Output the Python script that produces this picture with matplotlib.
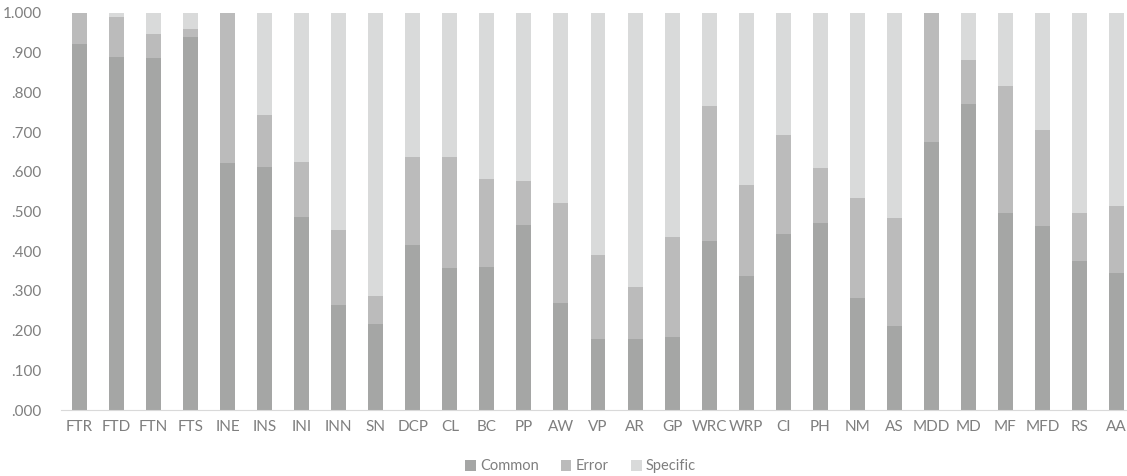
import numpy as np
import matplotlib
matplotlib.use('Agg')
import matplotlib.pyplot as plt
from matplotlib.ticker import FuncFormatter

'''
Data
'''
categories = ['FTR', 'FTD', 'FTN', 'FTS', 'INE', 'INS', 'INI', 'INN', 'SN', 'DCP',
              'CL', 'BC', 'PP', 'AW', 'VP', 'AR', 'GP', 'WRC', 'WRP', 'CI',
              'PH', 'NM', 'AS', 'MDD', 'MD', 'MF', 'MFD', 'RS', 'AA']

common = [0.923, 0.889, 0.887, 0.940, 0.622, 0.612, 0.486, 0.264, 0.217, 0.416,
          0.358, 0.360, 0.466, 0.270, 0.179, 0.179, 0.184, 0.426, 0.338, 0.443,
          0.471, 0.282, 0.212, 0.675, 0.771, 0.496, 0.463, 0.375, 0.345]

# cumulative top of the error segment
error_top = [1.000, 0.991, 0.948, 0.960, 1.000, 0.743, 0.625, 0.453, 0.287, 0.638,
             0.638, 0.582, 0.577, 0.521, 0.390, 0.310, 0.436, 0.766, 0.567, 0.693,
             0.610, 0.534, 0.484, 1.000, 0.882, 0.816, 0.705, 0.496, 0.514]

common = np.array(common)
error = np.array(error_top) - common
specific = 1.0 - np.array(error_top)

'''
Plot
'''
plt.rcParams['font.family'] = ['Lato', 'DejaVu Sans']
text_color = '#7f7f7f'

fig = plt.figure(figsize=(11.27, 4.76), dpi=100)
ax = fig.add_axes([61 / 1127, 1 - 410 / 476, (1135 - 61) / 1127, 397 / 476])

x = np.arange(len(categories))
w = 0.405
ax.bar(x, common, w, color='#a5a6a5', label='Common')
ax.bar(x, error, w, bottom=common, color='#bbbbbb', label='Error')
ax.bar(x, specific, w, bottom=common + error, color='#d9dada', label='Specific')

ax.set_xlim(-0.5, len(categories) - 0.5)
ax.set_ylim(0, 1)
ax.set_yticks(np.arange(0, 1.01, 0.1))

def fmt(v, pos):
    s = '%.3f' % v
    return s[1:] if s.startswith('0') else s

ax.yaxis.set_major_formatter(FuncFormatter(fmt))
ax.set_xticks(x)
ax.set_xticklabels(categories)

for s in ['top', 'right', 'left']:
    ax.spines[s].set_visible(False)
ax.spines['bottom'].set_color('#d9d9d9')
ax.tick_params(length=0, colors=text_color, labelsize=11)
ax.tick_params(axis='x', pad=7)
ax.tick_params(axis='y', pad=14)

fig.legend(loc='center', bbox_to_anchor=(0.515, 0.02), ncol=3, frameon=False,
           fontsize=10.5, labelcolor=text_color, handlelength=0.75, handleheight=0.75,
           handletextpad=0.3, columnspacing=1.5)

fig.savefig('out.png', dpi=100)
